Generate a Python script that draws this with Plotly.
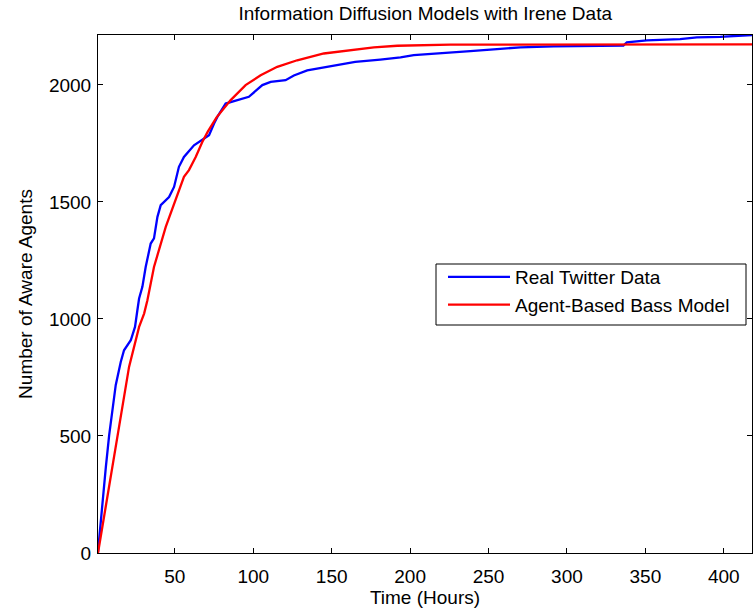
import plotly.graph_objects as go

# Real Twitter data (hours, aware agents)
twitter_t = [1, 3.9, 6, 8.1, 10.2, 12.3, 15.5, 17.6, 21.9, 24.6, 26.1, 27.2, 29.3, 31.4,
             34.6, 36.7, 38.9, 41, 46.3, 49.5, 52.6, 55.8, 62.2, 67.5, 71.8, 75, 77.1,
             82.4, 89.8, 97.2, 105.8, 111.1, 120.6, 125.9, 134.4, 145, 155.6, 165, 181,
             193.9, 202.3, 219.3, 238.4, 255.4, 270.3, 291.5, 312.7, 336, 338.2, 350.9,
             372.2, 382.8, 397.7, 410.4, 418]
twitter_v = [5, 225, 367, 503, 610, 717, 816, 866, 909, 966, 1037, 1087, 1137, 1222,
             1322, 1344, 1436, 1486, 1521, 1564, 1650, 1692, 1742, 1764, 1785, 1835, 1863,
             1920, 1935, 1949, 1999, 2013, 2020, 2040, 2062, 2074, 2088, 2098, 2108,
             2117, 2127, 2134, 2144, 2153, 2160, 2164, 2166, 2168, 2182, 2190,
             2195, 2203, 2205, 2211, 2213]

# Agent-based Bass model
bass_t = [1, 8.1, 14.4, 20.8, 27.2, 30.4, 32.5, 36.7, 44.2, 50.5, 55.8, 59, 63.3, 67.5,
          71, 76.5, 85.6, 95.1, 104.7, 115.3, 123.8, 128, 145, 166.3, 176.9, 191.8,
          225.7, 418]
bass_v = [0, 282, 538, 795, 966, 1023, 1080, 1222, 1393, 1507, 1607, 1636, 1692, 1756,
          1800, 1860, 1935, 1999, 2041, 2077, 2098, 2105, 2134, 2153, 2160, 2167,
          2172, 2173]

x_ticks = [50, 100, 150, 200, 250, 300, 350, 400]
y_ticks = [0, 500, 1000, 1500, 2000]

FONT = "Liberation Sans, Arial, Helvetica, sans-serif"

fig = go.Figure()
fig.add_trace(go.Scatter(x=twitter_t, y=twitter_v, mode="lines", name="Real Twitter Data",
                         line=dict(color="#0000ff", width=2.3)))
fig.add_trace(go.Scatter(x=bass_t, y=bass_v, mode="lines", name="Agent-Based Bass Model",
                         line=dict(color="#ff0000", width=2.3)))

axis_common = dict(showline=True, linecolor="black", linewidth=1, mirror="ticks",
                   ticks="inside", ticklen=5, tickcolor="black", showgrid=False,
                   zeroline=False, tickfont=dict(size=19, color="black", family=FONT))

# plot area in pixels: x 98..752, y 35..553
PW, PH, PB = 654, 518, 553

def px_x(p):
    return (p - 98) / PW

def px_y(p):
    return (PB - p) / PH

fig.update_layout(
    width=756, height=609,
    margin=dict(l=98, r=4, t=35, b=56),
    paper_bgcolor="white", plot_bgcolor="white",
    font=dict(family=FONT, color="black", size=19),
    title=dict(text="Information Diffusion Models with Irene Data", x=0.5625, xanchor="center",
               y=1 - 13 / 609, yanchor="middle", font=dict(size=19, color="black")),
    xaxis=dict(range=[1, 418], tickvals=x_ticks, ticklabelstandoff=6,
               title=dict(text="Time (Hours)", standoff=2, font=dict(size=19)), **axis_common),
    yaxis=dict(range=[0, 2213], tickvals=y_ticks, ticklabelstandoff=2,
               title=dict(text="Number of Aware Agents", standoff=11, font=dict(size=19)),
               **axis_common),
    legend=dict(x=px_x(443), xanchor="left", y=px_y(258), yanchor="top",
                bgcolor="rgba(0,0,0,0)", borderwidth=0, itemwidth=62,
                font=dict(size=19, color="black")),
    shapes=[dict(type="rect", xref="paper", yref="paper", layer="above",
                 x0=px_x(436), x1=px_x(746), y0=px_y(325), y1=px_y(264),
                 fillcolor="white", line=dict(color="black", width=1))],
    showlegend=True,
)

fig.write_html("out.html")
